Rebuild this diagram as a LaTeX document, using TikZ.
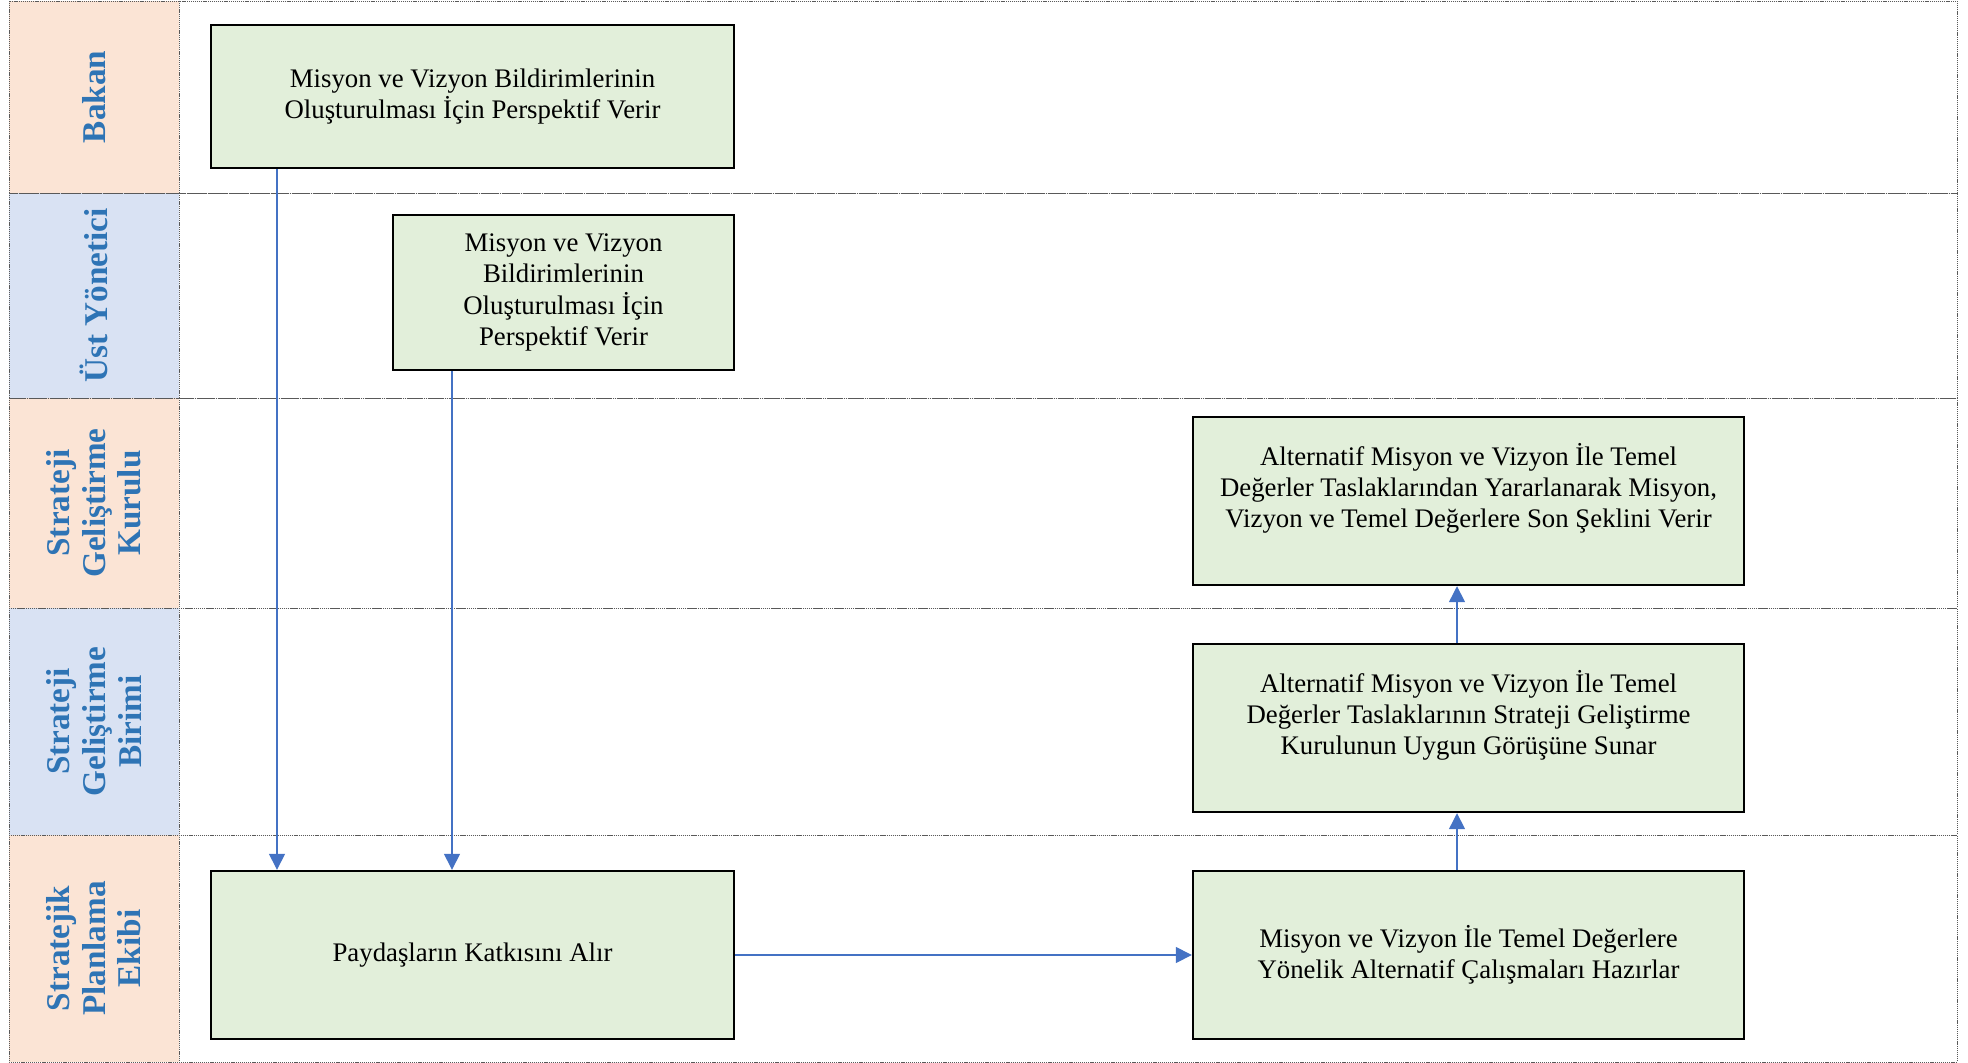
\documentclass[tikz,border=0pt]{standalone}
\usepackage{fontspec}
\setmainfont{Liberation Serif}
\usetikzlibrary{arrows.meta}
\definecolor{peach}{HTML}{FBE4D5}
\definecolor{lblue}{HTML}{D9E2F3}
\definecolor{hdrtext}{HTML}{2E74B5}
\definecolor{boxfill}{HTML}{E2EFDA}
\definecolor{arrcol}{HTML}{4472C4}
\begin{document}
\begin{tikzpicture}[x=0.5pt,y=-0.5pt,
  laneline/.style={draw=black!65, line width=0.45pt, dash pattern=on 0.6pt off 0.45pt},
  hdr/.style={rotate=90, text=hdrtext, font=\fontsize{16.6}{17.8}\selectfont\bfseries, align=center},
  stepbox/.style={draw=black, line width=1.2pt, fill=boxfill, font=\fontsize{13.4}{15.6}\selectfont, align=center, inner sep=0pt},
  arr/.style={draw=arrcol, line width=0.7pt, -{Triangle[width=8pt,length=8pt]}}
]
\useasboundingbox (0,0) rectangle (1968,1063);
% lane header fills
\fill[peach] (9,1) rectangle (179,193);
\fill[lblue] (9,193) rectangle (179,398);
\fill[peach] (9,398) rectangle (179,608);
\fill[lblue] (9,608) rectangle (179,835);
\fill[peach] (9,835) rectangle (179,1062);
% lane borders
\foreach \ya/\yb in {1/193,193/398,398/608,608/835,835/1062}{
  \draw[laneline] (9,\ya) rectangle (1957,\yb);
  \draw[laneline] (179,\ya) -- (179,\yb);
}
% lane header texts
\node[hdr] (h1) at (94,97) {Bakan};
\node[hdr] (h2) at (94,295.5) {Üst Yönetici};
\node[hdr] (h3) at (94,503) {Strateji\\Geliştirme\\Kurulu};
\node[hdr] (h4) at (94,721.5) {Strateji\\Geliştirme\\Birimi};
\node[hdr] (h5) at (94,948.5) {Stratejik\\Planlama\\Ekibi};
% boxes
\node[stepbox, minimum width=261.5pt, minimum height=71.5pt] (b1) at (472.5,96.5)
  {Misyon ve Vizyon Bildirimlerinin\\Oluşturulması İçin Perspektif Verir};
\node[stepbox, minimum width=170.5pt, minimum height=77.5pt] (b2) at (563.5,292.5)
  {Misyon ve Vizyon\\Bildirimlerinin\\Oluşturulması İçin\\Perspektif Verir};
\node[stepbox, minimum width=275.5pt, minimum height=84pt] (b3) at (1468.5,501)
  {Alternatif Misyon ve Vizyon İle Temel\\Değerler Taslaklarından Yararlanarak Misyon,\\Vizyon ve Temel Değerlere Son Şeklini Verir\\\mbox{}};
\node[stepbox, minimum width=275.5pt, minimum height=84pt] (b4) at (1468.5,728)
  {Alternatif Misyon ve Vizyon İle Temel\\Değerler Taslaklarının Strateji Geliştirme\\Kurulunun Uygun Görüşüne Sunar\\\mbox{}};
\node[stepbox, minimum width=275.5pt, minimum height=84pt] (b5) at (1468.5,955)
  {Misyon ve Vizyon İle Temel Değerlere\\Yönelik Alternatif Çalışmaları Hazırlar};
\node[stepbox, minimum width=261.5pt, minimum height=84pt] (b6) at (472.5,955)
  {Paydaşların Katkısını Alır};
% connectors
\coordinate (c1) at (277,0);
\coordinate (c2) at (452,0);
\coordinate (c3) at (1457,0);
\draw[arr] (b1.south -| c1) -- (b6.north -| c1);
\draw[arr] (b2.south -| c2) -- (b6.north -| c2);
\draw[arr] (b6.east) -- (b5.west);
\draw[arr] (b5.north -| c3) -- (b4.south -| c3);
\draw[arr] (b4.north -| c3) -- (b3.south -| c3);
\end{tikzpicture}
\end{document}
